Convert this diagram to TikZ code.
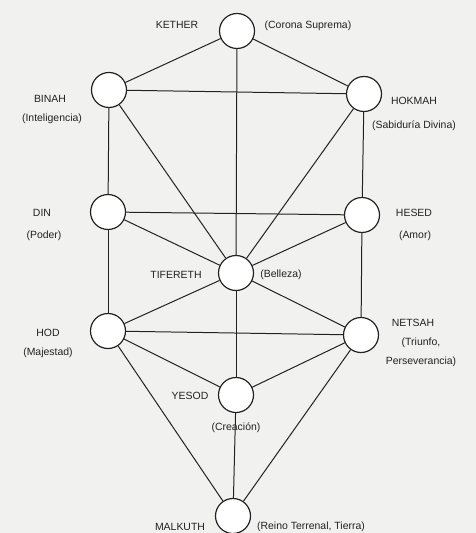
\documentclass[tikz,border=0pt]{standalone}
\usepackage{fontspec}
\setmainfont{Liberation Sans}
\usetikzlibrary{positioning}
\definecolor{paper}{HTML}{F1F1EF}
\definecolor{ink}{HTML}{222222}

\begin{document}
\begin{tikzpicture}[x=1bp, y=-1bp,
  sephira/.style={circle, draw=ink, fill=white, line width=1.2pt, minimum size=35bp, inner sep=0pt},
  txt/.style={font=\fontsize{10.5}{19}\selectfont, text=ink, inner sep=1pt, align=center},
  link/.style={draw=ink, line width=1pt},
]
  \fill[paper] (0,0) rectangle (476,533);
  \useasboundingbox (0,0) rectangle (476,533);

  % Upper triad
  \node[sephira] (kether) at (237, 31) {};
  \node[sephira] (binah) at (109, 90) {};
  \node[sephira] (hokmah) at (364, 94) {};

  % Middle
  \node[sephira] (din) at (108, 212) {};
  \node[sephira] (hesed) at (362, 215) {};
  \node[sephira] (tifereth) at (236, 273) {};

  % Lower
  \node[sephira] (hod) at (108, 331) {};
  \node[sephira] (netsah) at (361, 335) {};
  \node[sephira] (yesod) at (236, 395) {};
  \node[sephira] (malkuth) at (233, 516) {};

  % Paths
  \path[link] (kether) -- (binah);
  \path[link] (kether) -- (hokmah);
  \path[link] (kether) -- (tifereth);
  \path[link] (binah) -- (hokmah);
  \path[link] (binah) -- (din);
  \path[link] (binah) -- (tifereth);
  \path[link] (hokmah) -- (hesed);
  \path[link] (hokmah) -- (tifereth);
  \path[link] (din) -- (hesed);
  \path[link] (din) -- (tifereth);
  \path[link] (hesed) -- (tifereth);
  \path[link] (din) -- (hod);
  \path[link] (hesed) -- (netsah);
  \path[link] (tifereth) -- (hod);
  \path[link] (tifereth) -- (netsah);
  \path[link] (hod) -- (netsah);
  \path[link] (tifereth) -- (yesod);
  \path[link] (hod) -- (yesod);
  \path[link] (netsah) -- (yesod);
  \path[link] (hod) -- (malkuth);
  \path[link] (netsah) -- (malkuth);
  \path[link] (yesod) -- (malkuth);

  % Names and meanings
  \node[txt] (ketherN) at (177, 25) {KETHER};
  \node[txt] (ketherM) at (308, 26) {(Corona Suprema)};
  \node[txt] (binahN) at (50, 99) {BINAH};
  \node[txt] (binahM) at (52, 119) {(Inteligencia)};
  \node[txt] (hokmahN) at (414, 101) {HOKMAH};
  \node[txt] (hokmahM) at (414, 126) {(Sabiduría Divina)};
  \node[txt] (dinN) at (42, 213) {DIN};
  \node[txt] (dinM) at (44, 236) {(Poder)};
  \node[txt] (hesedN) at (414, 213) {HESED};
  \node[txt] (hesedM) at (415, 236) {(Amor)};
  \node[txt] (tiferethN) at (176, 275) {TIFERETH};
  \node[txt] (tiferethM) at (281, 275) {(Belleza)};
  \node[txt] (hodN) at (48, 333) {HOD};
  \node[txt] (hodM) at (48, 353) {(Majestad)};
  \node[txt] (netsahN) at (413, 323) {NETSAH};
  \node[txt] (netsahM) at (421, 352) {(Triunfo,\\Perseverancia)};
  \node[txt] (yesodN) at (190, 396) {YESOD};
  \node[txt] (yesodM) at (236, 428) {(Creación)};
  \node[txt] (malkuthN) at (180, 527) {MALKUTH};
  \node[txt] (malkuthM) at (311, 527) {(Reino Terrenal, Tierra)};
\end{tikzpicture}
\end{document}
